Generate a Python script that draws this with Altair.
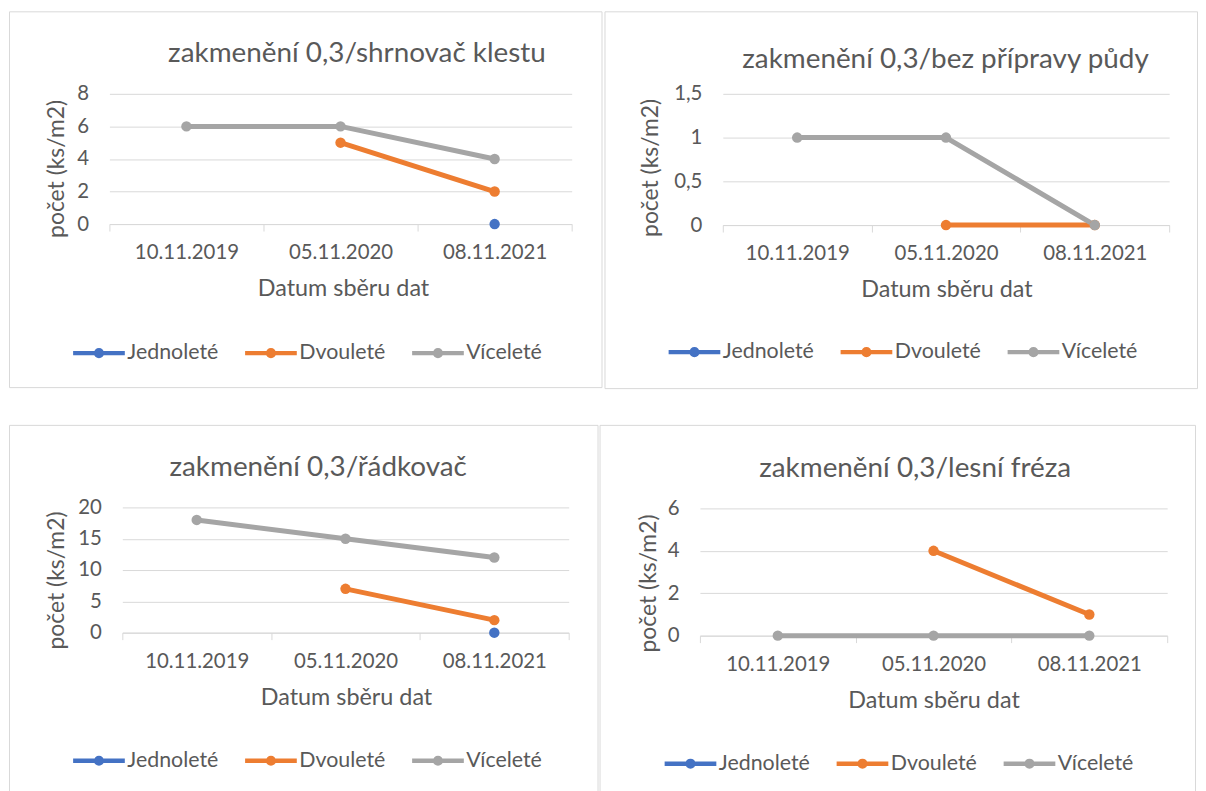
import altair as alt
import pandas as pd

# ---------------- data ----------------
dates = ["10.11.2019", "05.11.2020", "08.11.2021"]
series = ["Jednoleté", "Dvouleté", "Víceleté"]
colors = ["#4472C4", "#ED7D31", "#A5A5A5"]

titles = [
    "zakmenění 0,3/shrnovač klestu",
    "zakmenění 0,3/bez přípravy půdy",
    "zakmenění 0,3/řádkovač",
    "zakmenění 0,3/lesní fréza",
]

# values per panel (Jednoleté, Dvouleté, Víceleté), None = no value
p1_jednolete = [None, None, 0]
p1_dvoulete = [None, 5, 2]
p1_vicelete = [6, 6, 4]

p2_jednolete = [None, None, None]
p2_dvoulete = [None, 0, 0]
p2_vicelete = [1, 1, 0]

p3_jednolete = [None, None, 0]
p3_dvoulete = [None, 7, 2]
p3_vicelete = [18, 15, 12]

p4_jednolete = [None, None, None]
p4_dvoulete = [None, 4, 1]
p4_vicelete = [0, 0, 0]

y_ticks = [
    [0, 2, 4, 6, 8],
    [0, 0.5, 1, 1.5],
    [0, 5, 10, 15, 20],
    [0, 2, 4, 6],
]

panel_values = [
    [p1_jednolete, p1_dvoulete, p1_vicelete],
    [p2_jednolete, p2_dvoulete, p2_vicelete],
    [p3_jednolete, p3_dvoulete, p3_vicelete],
    [p4_jednolete, p4_dvoulete, p4_vicelete],
]

# ---------------- style / layout ----------------
FONT = "Lato"
TEXT = "#595959"
GRID = "#D9D9D9"

LEGEND_SYMBOL = (
    "M-1,0L1,0"
    "M-0.11,0a0.11,0.11 0 1,0 0.22,0a0.11,0.11 0 1,0 -0.22,0"
    "M-0.03,0a0.03,0.03 0 1,0 0.06,0a0.03,0.03 0 1,0 -0.06,0"
)

geom = [
    dict(W=596, H=378, x0=101, x1=566, yt=83, yb=214, tdx=52, ty=71,
         ytx=-53, yty=158, xtx=336, lx=62, ly=343),
    dict(W=596, H=379, x0=119, x1=568, yt=83, yb=215, tdx=45, ty=77,
         ytx=-73, yty=157, xtx=344, lx=62, ly=342),
    dict(W=592, H=378, x0=114, x1=563, yt=83, yb=209, tdx=15, ty=71,
         ytx=-66, yty=156, xtx=339, lx=62, ly=337),
    dict(W=599, H=378, x0=101, x1=571, yt=84, yb=212, tdx=18, ty=72,
         ytx=-52, yty=159, xtx=336, lx=63, ly=340),
]


def make_df(vals):
    rows = []
    for s, v in zip(series, vals):
        for d, y in zip(dates, v):
            if y is not None:
                rows.append({"datum": d, "serie": s, "pocet": y})
    return pd.DataFrame(rows)


def panel(i):
    g = geom[i]
    df = make_df(panel_values[i])
    ticks = y_ticks[i]
    x = alt.X(
        "datum:N",
        sort=dates,
        scale=alt.Scale(type="band", domain=dates, range=[g["x0"], g["x1"]],
                        paddingInner=0, paddingOuter=0),
        axis=alt.Axis(
            title="Datum sběru dat",
            offset=-(g["H"] - g["yb"]),
            labelAngle=0,
            grid=False,
            domainColor=GRID,
            domainWidth=1,
            tickColor=GRID,
            tickSize=7,
            tickBand="extent",
            labelPadding=12,
            labelFont=FONT,
            labelFontSize=20.5,
            labelColor=TEXT,
            titleFont=FONT,
            titleFontSize=23.5,
            titleFontWeight="normal",
            titleColor=TEXT,
            titleX=g["xtx"],
            titleY=65,
            titleBaseline="middle",
            titleAlign="center",
        ),
    )
    y = alt.Y(
        "pocet:Q",
        scale=alt.Scale(domain=[ticks[0], ticks[-1]], range=[g["yb"], g["yt"]], nice=False),
        axis=alt.Axis(
            title="počet (ks/m2)",
            values=ticks,
            offset=-g["x0"],
            domain=False,
            ticks=False,
            tickSize=0,
            grid=True,
            gridColor=GRID,
            gridWidth=1,
            labelExpr="replace(toString(datum.value), '.', ',')",
            labelPadding=21,
            labelFont=FONT,
            labelFontSize=20.5,
            labelColor=TEXT,
            titleFont=FONT,
            titleFontSize=23,
            titleFontWeight="normal",
            titleColor=TEXT,
            titleX=g["ytx"],
            titleY=g["yty"],
            titleAngle=270,
            titleBaseline="middle",
            titleAlign="center",
        ),
    )
    color = alt.Color(
        "serie:N",
        sort=series,
        scale=alt.Scale(domain=series, range=colors),
        legend=alt.Legend(
            title=None,
            orient="none",
            legendX=g["lx"],
            legendY=g["ly"] - 28,
            direction="horizontal",
            symbolType=LEGEND_SYMBOL,
            symbolSize=2704,
            symbolStrokeWidth=4.5,
            labelFont=FONT,
            labelFontSize=21.5,
            labelColor=TEXT,
            labelOffset=0,
            columnPadding=17,
        ),
    )
    chart = (
        alt.Chart(df)
        .mark_line(
            strokeWidth=5,
            strokeCap="round",
            strokeJoin="round",
            point=alt.OverlayMarkDef(filled=True, size=110, opacity=1),
        )
        .encode(x=x, y=y, color=color)
        .properties(
            width=g["W"],
            height=g["H"],
            title=alt.TitleParams(
                text=titles[i],
                font=FONT,
                fontSize=28,
                fontWeight="normal",
                color=TEXT,
                anchor="middle",
                frame="group",
                dx=g["tdx"],
                offset=-g["ty"],
                baseline="middle",
            ),
        )
    )
    return chart


row1 = alt.hconcat(panel(0), panel(1), spacing=1).resolve_scale(color="independent").resolve_legend(color="independent")
row2 = alt.hconcat(panel(2), panel(3), spacing=0).resolve_scale(color="independent").resolve_legend(color="independent")

chart = (
    alt.vconcat(row1, row2, spacing=35)
    .resolve_scale(color="independent")
    .resolve_legend(color="independent")
    .properties(padding=0, background="white")
    .configure_view(stroke=GRID, strokeWidth=1)
)

chart.save("out.html", embed_options={"renderer": "svg", "actions": False})
